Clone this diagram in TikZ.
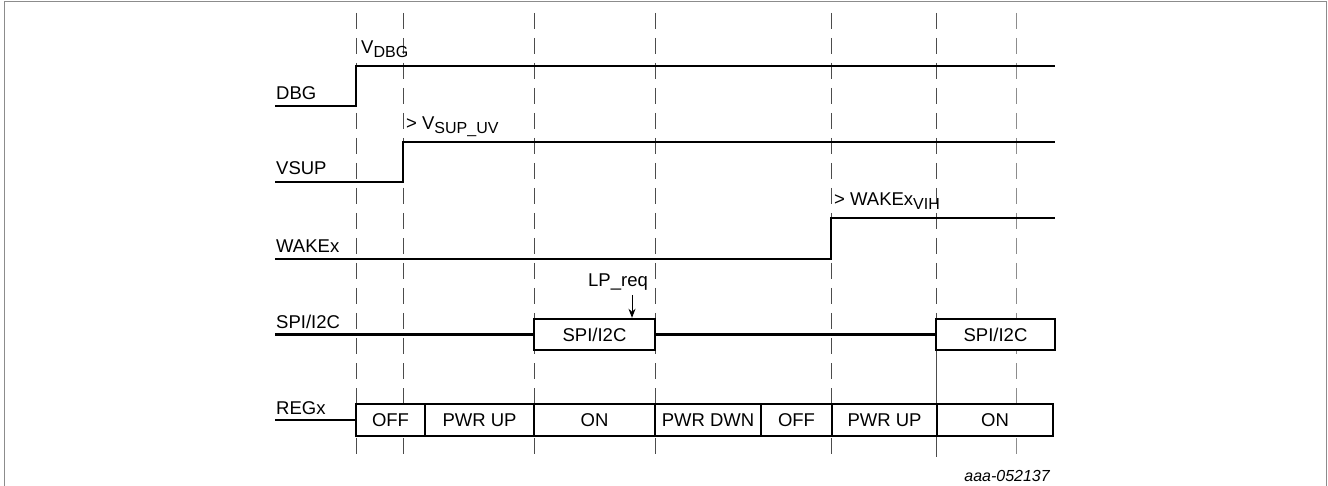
\documentclass[tikz,border=0pt]{standalone}
\usepackage{fontspec}
\setmainfont{Liberation Sans}
\usetikzlibrary{arrows.meta}
\newcommand{\lowtxt}[1]{\raisebox{-4pt}{\fontsize{16}{17}\selectfont #1}}

\begin{document}
\begin{tikzpicture}[x=1pt,y=-1pt,font=\fontsize{18.5}{20}\selectfont]
\tikzset{
 sig/.style={line width=2.4pt},
 gl/.style={black!70,line width=1pt,dash pattern=on 16pt off 9pt},
 bx/.style={draw,line width=2.4pt,fill=white,minimum height=32pt,inner sep=0,minimum width=#1},
 bx/.default=100pt,
 lb/.style={anchor=base west,inner sep=0},
 ar/.style={-{Stealth[length=9pt,width=7pt]},line width=1pt}
}
\useasboundingbox (0,0) rectangle (1328,486);
\draw[black!45,line width=1pt] (4.5,486) -- (4.5,2) -- (1326,2) -- (1326,486);

% time marks
\draw[gl] (356,13) -- (356,457);
\draw[gl] (403,13) -- (403,457);
\draw[gl] (534,13) -- (534,457);
\draw[gl] (655,13) -- (655,457);
\draw[gl] (831,13) -- (831,457);
\draw[gl] (936,13) -- (936,319);
\draw[black!70,line width=1pt] (936,350) -- (936,457);
\draw[gl,black!45] (1016,13) -- (1016,457);

% signal names
\node[lb] (ndbg) at (276,100) {DBG};
\node[lb] (nvsup) at (276,175) {VSUP};
\node[lb] (nwake) at (276,253) {WAKEx};
\node[lb] (nspi) at (276,329) {SPI/I2C};
\node[lb] (nreg) at (276,414) {REGx};

% levels
\draw[sig] (275,106) -- (356,106) -- (356,66) -- (1055,66);
\node[lb] (vdbg) at (361,54) {V\lowtxt{DBG}};
\draw[sig] (275,182) -- (403,182) -- (403,142) -- (1055,142);
\node[lb] (vsupuv) at (406,130) {> V\lowtxt{SUP\_UV}};
\draw[sig] (275,259) -- (831,259) -- (831,218) -- (1055,218);
\node[lb] (wvih) at (834,206) {> WAKEx\lowtxt{VIH}};

% bus
\node[bx=121pt,minimum height=31pt] (spi1) at (594.5,334.5) {SPI/I2C};
\node[bx=119pt,minimum height=31pt] (spi2) at (995.5,334.5) {SPI/I2C};
\draw[sig] (275,334.5) -- (spi1.west);
\draw[sig] (spi1.east) -- (spi2.west);
\node[lb] (lpreq) at (588,287) {LP\_req};
\coordinate (lpa) at (632,295);
\draw[ar] (lpa) -- (lpa |- spi1.north);

% regulator states
\node[bx=69pt] (r1) at (390.5,420) {OFF};
\node[bx=109pt] (r2) at (479.5,420) {PWR UP};
\node[bx=121pt] (r3) at (594.5,420) {ON};
\node[bx=106pt] (r4) at (708,420) {PWR DWN};
\node[bx=71pt] (r5) at (796.5,420) {OFF};
\node[bx=105pt] (r6) at (884.5,420) {PWR UP};
\node[bx=116pt] (r7) at (995,420) {ON};
\draw[sig] (275,420) -- (r1.west);

\node[anchor=base east,inner sep=0,font=\fontsize{16}{18}\selectfont\itshape] (figid) at (1050,481) {aaa-052137};
\end{tikzpicture}
\end{document}
